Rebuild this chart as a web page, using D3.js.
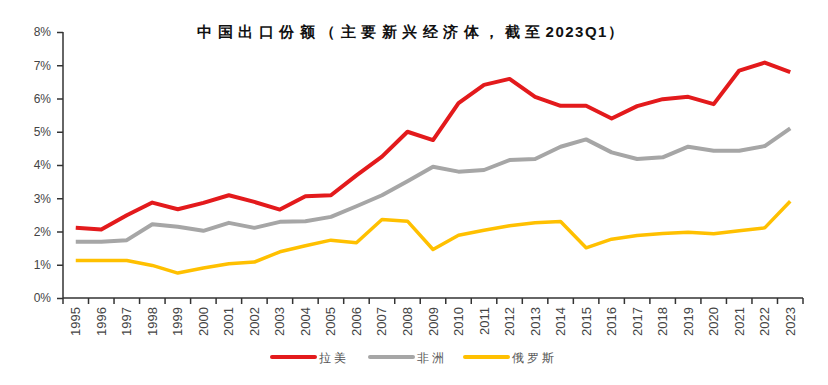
<html>
<head>
<meta charset="utf-8">
<script src="https://d3js.org/d3.v7.min.js"></script>
<style>
  body { margin: 0; background: #fff; }
  text { font-family: "Liberation Sans", Arial, sans-serif; }
</style>
</head>
<body>
<script>
// years on x axis
var years = d3.range(1995, 2024).map(String);

// share of China's exports, %
var latam  = [2.11, 2.06, 2.49, 2.87, 2.67, 2.86, 3.09, 2.89, 2.66, 3.06, 3.09, 3.69, 4.25, 5.00, 4.75,
              5.86, 6.41, 6.59, 6.05, 5.78, 5.78, 5.40, 5.77, 5.98, 6.05, 5.83, 6.84, 7.08, 6.79];
var africa = [1.69, 1.69, 1.74, 2.22, 2.14, 2.02, 2.26, 2.11, 2.29, 2.31, 2.44, 2.76, 3.09, 3.51, 3.95,
              3.80, 3.85, 4.15, 4.18, 4.55, 4.77, 4.38, 4.18, 4.23, 4.55, 4.43, 4.43, 4.57, 5.10];
var russia = [1.13, 1.13, 1.13, 0.98, 0.75, 0.90, 1.03, 1.08, 1.39, 1.57, 1.74, 1.66, 2.36, 2.31, 1.46,
              1.89, 2.04, 2.17, 2.26, 2.30, 1.51, 1.77, 1.88, 1.94, 1.98, 1.93, 2.02, 2.11, 2.91];

var seriesNames = ["拉美", "非洲", "俄罗斯"];
var seriesColors = ["#e31a1c", "#a6a6a6", "#ffc000"];
var yTicks = [0, 1, 2, 3, 4, 5, 6, 7, 8];

var W = 828, H = 385;
var plotL = 63, plotR = 803, plotT = 32, plotB = 298;

var svg = d3.select("body").append("svg")
    .attr("width", W).attr("height", H);

var x = d3.scaleBand().domain(years).range([plotL, plotR]);
var y = d3.scaleLinear().domain([0, 8]).range([plotB, plotT]);

// title, digits set tighter than the CJK characters
var title = svg.append("text")
    .attr("x", 410).attr("y", 37)
    .attr("text-anchor", "middle")
    .attr("font-family", "'Noto Sans CJK SC', sans-serif")
    .attr("font-weight", "bold")
    .attr("font-size", 15)
    .attr("fill", "#111");
title.append("tspan").attr("letter-spacing", "5.5px").text("中国出口份额（主要新兴经济体，截至");
title.append("tspan").attr("letter-spacing", "1.5px").text("2023Q1");
title.append("tspan").text("）");

// y axis
var yAxis = svg.append("g")
    .attr("transform", "translate(" + plotL + ",0)")
    .call(d3.axisLeft(y).tickValues(yTicks).tickSize(6).tickPadding(6)
        .tickFormat(function (d) { return d + "%"; }));
yAxis.selectAll("path, line").attr("stroke", "#333").attr("stroke-width", 1.5);
yAxis.select(".domain").attr("d", "M0," + plotT + "V" + plotB);
yAxis.selectAll("text").attr("font-size", 12).attr("fill", "#444")
    .attr("font-family", "'Liberation Sans Narrow', 'Liberation Sans', sans-serif");

// x axis, ticks between categories
var xAxis = svg.append("g")
    .attr("transform", "translate(0," + plotB + ")");
xAxis.append("line")
    .attr("x1", plotL).attr("x2", plotR)
    .attr("stroke", "#333").attr("stroke-width", 1.5);
xAxis.selectAll("line.tk")
    .data(years.concat(["end"]))
    .enter().append("line")
    .attr("class", "tk")
    .attr("x1", function (d, i) { return plotL + i * x.bandwidth(); })
    .attr("x2", function (d, i) { return plotL + i * x.bandwidth(); })
    .attr("y1", 0).attr("y2", 6)
    .attr("stroke", "#333").attr("stroke-width", 1.5);
xAxis.selectAll("text")
    .data(years)
    .enter().append("text")
    .attr("transform", function (d) {
        return "translate(" + (x(d) + x.bandwidth() / 2 + 4.5) + ",9) rotate(-90)";
    })
    .attr("text-anchor", "end")
    .attr("font-size", 13)
    .attr("fill", "#444")
    .text(function (d) { return d; });

// lines
var line = d3.line()
    .x(function (d, i) { return x(years[i]) + x.bandwidth() / 2; })
    .y(function (d) { return y(d); });

[latam, africa, russia].forEach(function (vals, k) {
    svg.append("path")
        .datum(vals)
        .attr("d", line)
        .attr("fill", "none")
        .attr("stroke", seriesColors[k])
        .attr("stroke-width", k == 2 ? 3.5 : 4)
        .attr("stroke-linejoin", "round");
});

// legend
var legendX = [272, 370, 465];
var legend = svg.append("g");
seriesNames.forEach(function (name, k) {
    legend.append("line")
        .attr("x1", legendX[k]).attr("x2", legendX[k] + 43)
        .attr("y1", 357).attr("y2", 357)
        .attr("stroke", seriesColors[k]).attr("stroke-width", 4)
        .attr("stroke-linecap", "round");
    legend.append("text")
        .attr("x", legendX[k] + 47).attr("y", 362)
        .attr("font-family", "'Noto Sans CJK SC', sans-serif")
        .attr("font-size", 12)
        .attr("letter-spacing", "3px")
        .attr("fill", "#555")
        .text(name);
});
</script>
</body>
</html>
